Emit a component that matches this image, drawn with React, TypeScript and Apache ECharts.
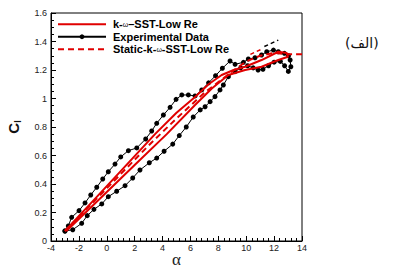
import React, { useEffect, useRef } from "react";
import * as echarts from "echarts";

// Experimental loop (alpha, Cl): upper branch going up, then lower branch returning
const expAlpha = [
  -3.0, -2.76, -2.52, -1.99, -1.56, -1.15, -0.72, -0.29, 0.11, 0.59, 1.0, 1.55, 2.15, 2.79, 3.22, 3.58, 4.06, 4.54,
  4.97, 5.38, 5.85, 6.33, 6.81, 7.3, 7.8, 8.29, 8.84, 9.2, 9.8, 10.15, 10.63, 11.1, 11.47, 11.95, 12.3, 12.74, 13.03,
  13.15, 13.2, 13.02, 12.75, 12.45, 12.0, 11.6, 11.2, 10.85, 10.5, 10.1, 9.6, 9.2, 8.72, 8.36, 8.12, 7.76, 7.41, 7.05,
  6.7, 6.2, 5.7, 5.2, 4.73, 4.11, 3.58, 3.05, 2.38, 1.86, 1.31, 0.71, 0.11, -0.36, -0.92, -1.4, -1.8, -2.44, -3.0,
];
const expCl = [
  0.07, 0.105, 0.166, 0.213, 0.267, 0.323, 0.377, 0.435, 0.486, 0.54, 0.59, 0.634, 0.653, 0.716, 0.772, 0.826, 0.884,
  0.938, 0.994, 1.025, 1.025, 1.018, 1.06, 1.11, 1.16, 1.212, 1.263, 1.24, 1.254, 1.277, 1.286, 1.305, 1.328, 1.34,
  1.328, 1.317, 1.3, 1.27, 1.223, 1.19, 1.23, 1.26, 1.255, 1.23, 1.205, 1.2, 1.215, 1.23, 1.215, 1.188, 1.153, 1.095,
  1.06, 1.013, 0.978, 0.942, 0.92, 0.87, 0.8, 0.74, 0.68, 0.63, 0.582, 0.549, 0.498, 0.442, 0.388, 0.349, 0.311, 0.26,
  0.222, 0.178, 0.124, 0.079, 0.07,
];

// k-omega-SST-Low Re dynamic loop
const sstAlpha = [
  -3, -1, 1, 3.46, 5, 6.33, 7.3, 8.24, 9.1, 9.92, 11.1, 12.3, 12.9, 13.0, 12.3, 11.1, 9.92, 8.72, 7.53, 6.33, 4.3, 2,
  0, -2, -2.9,
];
const sstCl = [
  0.07, 0.28, 0.49, 0.75, 0.9, 1.01, 1.1, 1.165, 1.2, 1.223, 1.27, 1.328, 1.32, 1.293, 1.27, 1.223, 1.2, 1.165, 1.07,
  0.954, 0.75, 0.533, 0.344, 0.155, 0.07,
];

// Static k-omega-SST-Low Re
const staticAlpha = [-3, 0, 3, 5, 7, 9, 10, 11, 12, 13, 14];
const staticCl = [0.07, 0.37, 0.67, 0.86, 1.04, 1.19, 1.26, 1.3, 1.32, 1.31, 1.31];

// small direction arrows near the top
const blackArrowAlpha = [11.3, 12.3];
const blackArrowCl = [1.365, 1.41];
const redArrowAlpha = [10.3, 11.2];
const redArrowCl = [1.31, 1.35];

const names = ["k-ω–SST-Low Re", "Experimental Data", "Static-k-ω-SST-Low Re"];
const xTicks = [-4, -2, 0, 2, 4, 6, 8, 10, 12, 14];
const yTicks = [0, 0.2, 0.4, 0.6, 0.8, 1, 1.2, 1.4, 1.6];

const zip = (a: number[], b: number[]) => a.map((v, i) => [v, b[i]]);

export default function App() {
  const ref = useRef<HTMLDivElement>(null);
  useEffect(() => {
    if (!ref.current) return;
    const chart = echarts.init(ref.current, undefined, { renderer: "svg", width: 408, height: 268 });
    const labelStyle = { fontFamily: "Arial, 'Liberation Sans'", fontSize: 9, color: "#222" };
    const hidden = { color: "rgba(0,0,0,0)", borderWidth: 0, borderColor: "rgba(0,0,0,0)" };
    chart.setOption({
      animation: false,
      backgroundColor: "#fff",
      grid: {
        left: 51,
        right: 106,
        top: 13,
        bottom: 27,
        show: true,
        borderColor: "#000",
        borderWidth: 1,
        backgroundColor: "transparent",
        outerBoundsMode: "none",
        containLabel: false,
      },
      legend: {
        orient: "vertical",
        left: 52,
        top: 13,
        itemWidth: 48,
        itemHeight: 6,
        itemGap: 0,
        data: [
          { name: names[0], itemStyle: hidden },
          { name: names[1] },
          { name: names[2], itemStyle: hidden },
        ],
        formatter: (n: string) => n.replace(/ω/g, "{w|ω}"),
        textStyle: {
          fontFamily: "Arial, 'Liberation Sans'",
          fontWeight: "bold",
          fontSize: 11,
          lineHeight: 12.5,
          color: "#000",
          padding: [0, 0, 0, 2],
          rich: {
            w: {
              fontSize: 7,
              fontWeight: "normal",
              color: "#000",
              lineHeight: 12.5,
              fontFamily: "Arial, 'Liberation Sans'",
            },
          },
        },
      },
      xAxis: {
        type: "value",
        min: xTicks[0],
        max: xTicks[xTicks.length - 1],
        interval: 2,
        name: "α",
        nameLocation: "middle",
        nameGap: 10,
        nameMoveOverlap: false,
        nameTextStyle: {
          fontFamily: "'Liberation Serif', serif",
          fontSize: 17,
          color: "#222",
          verticalAlign: "top",
          lineHeight: 17,
        },
        axisLine: { show: true, onZero: false, lineStyle: { color: "#000", width: 1 } },
        axisTick: { show: true, inside: true, length: 5, lineStyle: { color: "#000" } },
        minorTick: { show: true, splitNumber: 5, length: 3, lineStyle: { color: "#000" } },
        axisLabel: { ...labelStyle, margin: 2 },
        splitLine: { show: false },
      },
      yAxis: {
        type: "value",
        min: yTicks[0],
        max: yTicks[yTicks.length - 1],
        interval: 0.2,
        name: "{c|C}{l|l}",
        nameLocation: "middle",
        nameGap: 29,
        nameRotate: 90,
        nameMoveOverlap: false,
        nameTextStyle: {
          rich: {
            c: { fontFamily: "Arial, 'Liberation Sans'", fontWeight: "bold", fontSize: 15, color: "#111" },
            l: {
              fontFamily: "Arial, 'Liberation Sans'",
              fontWeight: "bold",
              fontSize: 9,
              color: "#111",
              padding: [8, 0, 0, 0],
            },
          },
        },
        axisLine: { show: true, onZero: false, lineStyle: { color: "#000", width: 1 } },
        axisTick: { show: true, inside: true, length: 5, lineStyle: { color: "#000" } },
        minorTick: { show: true, splitNumber: 4, length: 3, lineStyle: { color: "#000" } },
        axisLabel: { ...labelStyle, margin: 4, formatter: (v: number) => String(Math.round(v * 10) / 10) },
        splitLine: { show: false },
      },
      series: [
        {
          name: names[0],
          type: "line",
          data: zip(sstAlpha, sstCl),
          symbol: "none",
          lineStyle: { color: "#e00000", width: 2 },
          itemStyle: { color: "#e00000" },
          z: 3,
        },
        {
          name: names[1],
          type: "line",
          data: zip(expAlpha, expCl),
          symbol: "circle",
          symbolSize: 5,
          lineStyle: { color: "#000", width: 1 },
          itemStyle: { color: "#000" },
          z: 2,
        },
        {
          name: names[2],
          type: "line",
          data: zip(staticAlpha, staticCl),
          symbol: "none",
          lineStyle: { color: "#e00000", width: 2, type: [6, 4] },
          itemStyle: { color: "#e00000" },
          z: 4,
        },
        {
          name: "arrowBlack",
          type: "line",
          data: zip(blackArrowAlpha, blackArrowCl),
          symbol: "none",
          lineStyle: { color: "#000", width: 1.5, type: [4, 3] },
          silent: true,
        },
        {
          name: "arrowRed",
          type: "line",
          data: zip(redArrowAlpha, redArrowCl),
          symbol: "none",
          lineStyle: { color: "#e00000", width: 1.5, type: [4, 3] },
          silent: true,
        },
      ],
      graphic: [
        {
          type: "text",
          left: 345,
          top: 36,
          style: {
            text: "(الف)",
            fontFamily: "'DejaVu Sans'",
            fontSize: 14,
            fill: "#111",
          },
        },
      ],
    });
    return () => chart.dispose();
  }, []);
  return <div ref={ref} style={{ position: "fixed", left: 0, top: 0, width: 408, height: 268 }} />;
}
